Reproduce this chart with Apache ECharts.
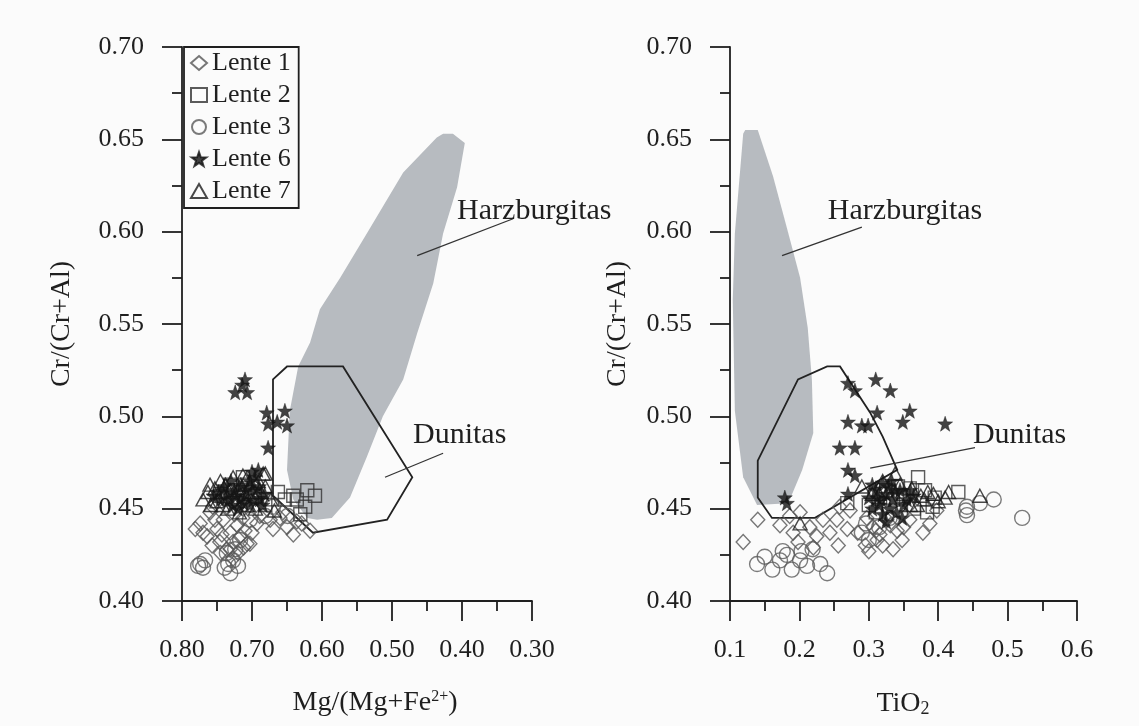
<!DOCTYPE html>
<html>
<head>
<meta charset="utf-8">
<script src="https://cdn.jsdelivr.net/npm/echarts@6/dist/echarts.min.js"></script>
<style>
  html, body { margin: 0; padding: 0; background: #fbfbfb; }
  #chart { width: 1139px; height: 726px; }
</style>
</head>
<body>
<div id="chart"></div>
<script>
// ---- data: left panel, x = Mg/(Mg+Fe2+), y = Cr/(Cr+Al)
const mgLente1 = [
  [0.770, 0.437], [0.774, 0.442], [0.760, 0.448], [0.764, 0.435], [0.750, 0.439],
  [0.741, 0.444], [0.731, 0.437], [0.746, 0.432], [0.727, 0.432], [0.717, 0.435],
  [0.707, 0.431], [0.731, 0.428], [0.720, 0.426], [0.700, 0.437], [0.693, 0.442],
  [0.756, 0.451], [0.736, 0.451], [0.713, 0.445], [0.703, 0.431], [0.727, 0.423],
  [0.736, 0.428], [0.753, 0.444], [0.721, 0.441], [0.710, 0.438], [0.689, 0.446],
  [0.743, 0.436], [0.757, 0.430], [0.781, 0.439], [0.670, 0.439], [0.650, 0.440],
  [0.636, 0.443], [0.617, 0.438], [0.641, 0.436], [0.660, 0.445], [0.656, 0.448],
  [0.629, 0.442], [0.674, 0.444], [0.725, 0.447], [0.712, 0.429], [0.745, 0.426]
];
const mgLente2 = [
  [0.713, 0.467], [0.710, 0.463], [0.663, 0.459], [0.641, 0.457], [0.621, 0.460],
  [0.610, 0.457], [0.624, 0.451], [0.636, 0.455], [0.653, 0.455], [0.631, 0.447],
  [0.731, 0.463], [0.696, 0.457], [0.681, 0.452], [0.746, 0.457]
];
const mgLente3 = [
  [0.774, 0.420], [0.770, 0.418], [0.777, 0.419], [0.767, 0.422], [0.736, 0.426],
  [0.734, 0.420], [0.731, 0.415], [0.727, 0.422], [0.739, 0.418], [0.720, 0.419],
  [0.670, 0.451], [0.681, 0.446], [0.703, 0.444], [0.717, 0.433], [0.724, 0.428],
  [0.649, 0.446]
];
const mgLente6 = [
  [0.724, 0.513], [0.710, 0.520], [0.707, 0.513], [0.714, 0.517], [0.679, 0.502],
  [0.653, 0.503], [0.677, 0.496], [0.664, 0.497], [0.650, 0.495], [0.677, 0.483],
  [0.691, 0.471], [0.696, 0.467], [0.703, 0.465], [0.710, 0.457], [0.696, 0.460],
  [0.689, 0.455], [0.717, 0.455], [0.703, 0.452], [0.725, 0.460], [0.735, 0.458],
  [0.745, 0.455], [0.720, 0.450], [0.690, 0.462], [0.700, 0.470], [0.728, 0.452],
  [0.715, 0.462], [0.682, 0.458], [0.740, 0.462], [0.748, 0.459], [0.730, 0.465],
  [0.722, 0.457], [0.712, 0.453], [0.698, 0.455], [0.706, 0.461], [0.685, 0.452],
  [0.733, 0.455], [0.755, 0.457]
];
const mgLente7 = [
  [0.763, 0.459], [0.753, 0.461], [0.743, 0.459], [0.731, 0.460], [0.720, 0.460],
  [0.710, 0.458], [0.700, 0.459], [0.689, 0.460], [0.681, 0.462], [0.713, 0.468],
  [0.681, 0.469], [0.691, 0.465], [0.770, 0.455], [0.750, 0.454], [0.725, 0.455],
  [0.705, 0.452], [0.695, 0.450], [0.738, 0.463], [0.716, 0.463], [0.759, 0.452],
  [0.735, 0.450], [0.673, 0.455], [0.668, 0.449], [0.684, 0.469], [0.745, 0.465],
  [0.727, 0.467], [0.708, 0.466], [0.760, 0.463], [0.742, 0.452], [0.718, 0.448]
];
const mgHarzburgitas = [
  [0.427, 0.653], [0.413, 0.653], [0.396, 0.648], [0.407, 0.624], [0.427, 0.599],
  [0.441, 0.572], [0.464, 0.545], [0.484, 0.520], [0.513, 0.500], [0.536, 0.478],
  [0.560, 0.456], [0.586, 0.445], [0.607, 0.444], [0.621, 0.445], [0.641, 0.455],
  [0.650, 0.471], [0.646, 0.503], [0.634, 0.527], [0.617, 0.540], [0.603, 0.558],
  [0.574, 0.575], [0.536, 0.599], [0.484, 0.632], [0.436, 0.651]
];
const mgDunitas = [
  [0.670, 0.520], [0.650, 0.527], [0.570, 0.527], [0.471, 0.467], [0.507, 0.444],
  [0.613, 0.437], [0.670, 0.457]
];

// ---- data: right panel, x = TiO2, y = Cr/(Cr+Al)
const tiLente1 = [
  [0.140, 0.444], [0.119, 0.432], [0.201, 0.448], [0.191, 0.437], [0.198, 0.432],
  [0.220, 0.429], [0.256, 0.430], [0.215, 0.440], [0.234, 0.444], [0.254, 0.444],
  [0.269, 0.439], [0.284, 0.437], [0.244, 0.437], [0.225, 0.435], [0.306, 0.440],
  [0.312, 0.433], [0.348, 0.433], [0.326, 0.444], [0.341, 0.438], [0.273, 0.449],
  [0.297, 0.445], [0.258, 0.451], [0.378, 0.437], [0.388, 0.442], [0.398, 0.449],
  [0.359, 0.444], [0.316, 0.436], [0.295, 0.430], [0.331, 0.441], [0.359, 0.452],
  [0.172, 0.441], [0.186, 0.446], [0.320, 0.430], [0.335, 0.428], [0.300, 0.427],
  [0.310, 0.438], [0.350, 0.440]
];
const tiLente2 = [
  [0.371, 0.467], [0.429, 0.459], [0.342, 0.462], [0.359, 0.461], [0.381, 0.460],
  [0.269, 0.453], [0.384, 0.448], [0.325, 0.460], [0.335, 0.455], [0.350, 0.457],
  [0.395, 0.456], [0.300, 0.452], [0.365, 0.450], [0.310, 0.448], [0.392, 0.451]
];
const tiLente3 = [
  [0.4415, 0.451], [0.4415, 0.4465], [0.460, 0.453], [0.480, 0.455], [0.521, 0.445],
  [0.139, 0.420], [0.150, 0.424], [0.161, 0.417], [0.172, 0.422], [0.189, 0.417],
  [0.201, 0.422], [0.211, 0.419], [0.230, 0.420], [0.240, 0.415], [0.182, 0.425],
  [0.176, 0.427], [0.203, 0.427], [0.219, 0.428], [0.290, 0.437], [0.300, 0.433],
  [0.315, 0.440], [0.330, 0.445], [0.296, 0.442], [0.440, 0.449]
];
const tiLente6 = [
  [0.270, 0.518], [0.280, 0.514], [0.310, 0.520], [0.331, 0.514], [0.312, 0.502],
  [0.359, 0.503], [0.349, 0.497], [0.410, 0.496], [0.270, 0.497], [0.290, 0.495],
  [0.299, 0.495], [0.258, 0.483], [0.280, 0.483], [0.270, 0.471], [0.280, 0.468],
  [0.270, 0.458], [0.320, 0.464], [0.179, 0.456], [0.182, 0.453], [0.310, 0.460],
  [0.325, 0.458], [0.335, 0.455], [0.315, 0.452], [0.345, 0.460], [0.300, 0.456],
  [0.330, 0.450], [0.355, 0.455], [0.340, 0.448], [0.320, 0.447], [0.305, 0.463],
  [0.350, 0.452], [0.365, 0.457], [0.312, 0.456], [0.328, 0.462], [0.318, 0.455],
  [0.338, 0.460], [0.348, 0.445], [0.325, 0.443], [0.305, 0.450], [0.360, 0.460],
  [0.333, 0.465]
];
const tiLente7 = [
  [0.338, 0.469], [0.290, 0.462], [0.362, 0.461], [0.393, 0.458], [0.410, 0.456],
  [0.460, 0.457], [0.201, 0.442], [0.320, 0.465], [0.345, 0.463], [0.375, 0.457],
  [0.385, 0.459], [0.400, 0.454], [0.350, 0.458], [0.330, 0.456], [0.370, 0.452],
  [0.315, 0.458], [0.360, 0.452], [0.380, 0.455], [0.305, 0.458], [0.415, 0.459]
];
const tiHarzburgitas = [
  [0.122, 0.655], [0.140, 0.655], [0.162, 0.630], [0.182, 0.602], [0.201, 0.575],
  [0.212, 0.548], [0.218, 0.520], [0.220, 0.491], [0.204, 0.471], [0.184, 0.453],
  [0.139, 0.452], [0.119, 0.467], [0.107, 0.503], [0.104, 0.563], [0.107, 0.599],
  [0.119, 0.653]
];
const tiDunitas = [
  [0.140, 0.456], [0.1605, 0.445], [0.2225, 0.445], [0.341, 0.471], [0.320, 0.489],
  [0.302, 0.502], [0.2585, 0.527], [0.240, 0.527], [0.198, 0.520], [0.140, 0.476]
];

const seriesNames = ['Lente 1', 'Lente 2', 'Lente 3', 'Lente 6', 'Lente 7'];

// field labels: [text, anchor, leader start, leader end]
const mgLabels = [
  ['Harzburgitas', [0.407, 0.611], [0.327, 0.607], [0.464, 0.587]],
  ['Dunitas', [0.470, 0.490], [0.427, 0.480], [0.510, 0.467]]
];
const tiLabels = [
  ['Harzburgitas', [0.241, 0.611], [0.290, 0.6025], [0.175, 0.587]],
  ['Dunitas', [0.450, 0.490], [0.453, 0.483], [0.302, 0.472]]
];

const FONT = '"Liberation Serif", "Times New Roman", serif';
const INK = '#1f1f1f';
const STAR = 'path://M0,-10L2.35,-3.24L9.51,-3.09L3.8,1.24L5.88,8.09L0,4L-5.88,8.09L-3.8,1.24L-9.51,-3.09L-2.35,-3.24Z';

const chart = echarts.init(document.getElementById('chart'));

function axisX(idx, min, max, inverse, fmt) {
  return {
    type: 'value', gridIndex: idx, min: min, max: max, interval: 0.1, inverse: inverse,
    axisLine: { onZero: false, lineStyle: { color: INK, width: 1.8 } },
    axisTick: { length: 20, lineStyle: { color: INK, width: 1.8 } },
    minorTick: { show: true, splitNumber: 2, length: 10, lineStyle: { color: INK, width: 1.8 } },
    splitLine: { show: false },
    axisLabel: { margin: 36, fontSize: 26, fontFamily: FONT, color: INK, formatter: fmt },
  };
}

function axisY(idx) {
  return {
    type: 'value', gridIndex: idx, min: 0.40, max: 0.70, interval: 0.05,
    axisLine: { onZero: false, lineStyle: { color: INK, width: 1.8 } },
    axisTick: { length: 20, lineStyle: { color: INK, width: 1.8 } },
    minorTick: { show: true, splitNumber: 2, length: 10, lineStyle: { color: INK, width: 1.8 } },
    splitLine: { show: false },
    axisLabel: { margin: 38, fontSize: 26, fontFamily: FONT, color: INK, formatter: v => v.toFixed(2) },
  };
}

function scatter(name, idx, data, symbol, size, color, filled, z) {
  return {
    name: name, type: 'scatter', xAxisIndex: idx, yAxisIndex: idx, data: data,
    symbol: symbol, symbolSize: size, z: z,
    itemStyle: filled
      ? { color: color, borderColor: color, borderWidth: 0.5 }
      : { color: 'rgba(0,0,0,0)', borderColor: color, borderWidth: 1.4 },
    emphasis: { disabled: true },
  };
}

function field(idx, pts, style, z) {
  return {
    type: 'custom', xAxisIndex: idx, yAxisIndex: idx, data: pts, z: z, silent: true,
    renderItem: (params, api) => {
      if (params.dataIndex !== 0) return null;
      return { type: 'polygon', shape: { points: pts.map(p => api.coord(p)) }, style: style };
    },
  };
}

function labels(idx, list) {
  return {
    type: 'custom', xAxisIndex: idx, yAxisIndex: idx, data: list.map(l => l[1]), z: 6, silent: true,
    renderItem: (params, api) => {
      const l = list[params.dataIndex];
      const at = api.coord(l[1]);
      const a = api.coord(l[2]);
      const b = api.coord(l[3]);
      return {
        type: 'group',
        children: [
          { type: 'line', shape: { x1: a[0], y1: a[1], x2: b[0], y2: b[1] }, style: { stroke: '#333', lineWidth: 1.3 } },
          { type: 'text', x: at[0], y: at[1], style: { text: l[0], font: '30px ' + FONT, fill: INK, textAlign: 'left', textVerticalAlign: 'middle' } },
        ],
      };
    },
  };
}

function panel(idx, d) {
  return [
    field(idx, d.harz, { fill: '#b7bbc0', stroke: 'none' }, 1),
    field(idx, d.dun, { fill: 'none', stroke: '#222', lineWidth: 1.8 }, 2),
    scatter(seriesNames[0], idx, d.l1, 'diamond', [14, 15], '#555', false, 3),
    scatter(seriesNames[2], idx, d.l3, 'circle', 15, '#5a5a5a', false, 3),
    scatter(seriesNames[1], idx, d.l2, 'rect', 13, '#333', false, 4),
    scatter(seriesNames[4], idx, d.l7, 'triangle', [14, 13], '#1c1c1c', false, 4),
    scatter(seriesNames[3], idx, d.l6, STAR, 15, '#141414', true, 5),
    labels(idx, d.labels),
  ];
}

chart.setOption({
  backgroundColor: '#fbfbfb',
  animation: false,
  grid: [
    { left: 182, top: 47, width: 350, height: 554 },
    { left: 730, top: 47, width: 347, height: 554 },
  ],
  xAxis: [
    axisX(0, 0.30, 0.80, true, v => v.toFixed(2)),
    axisX(1, 0.1, 0.6, false, v => v.toFixed(1)),
  ],
  yAxis: [axisY(0), axisY(1)],
  legend: {
    data: seriesNames,
    orient: 'vertical', left: 184, top: 47,
    padding: [3, 8, 4, 6], itemGap: 6, itemWidth: 16, itemHeight: 14,
    borderColor: INK, borderWidth: 1.8, backgroundColor: '#fbfbfb',
    textStyle: { fontSize: 26, fontFamily: FONT, color: INK },
    selectedMode: false,
  },
  graphic: [
    {
      type: 'text', x: 375, y: 703,
      style: {
        text: 'Mg/(Mg+Fe{sup|2+})', textAlign: 'center', textVerticalAlign: 'middle',
        font: '28px ' + FONT, fill: INK,
        rich: { sup: { fontSize: 16, fontFamily: FONT, verticalAlign: 'top', lineHeight: 18 } },
      },
    },
    {
      type: 'text', x: 903, y: 704,
      style: {
        text: 'TiO{sub|2}', textAlign: 'center', textVerticalAlign: 'middle',
        font: '28px ' + FONT, fill: INK,
        rich: { sub: { fontSize: 18, fontFamily: FONT, verticalAlign: 'bottom', lineHeight: 18 } },
      },
    },
    {
      type: 'text', x: 62, y: 324, rotation: Math.PI / 2,
      style: { text: 'Cr/(Cr+Al)', textAlign: 'center', textVerticalAlign: 'middle', font: '28px ' + FONT, fill: INK },
    },
    {
      type: 'text', x: 618, y: 324, rotation: Math.PI / 2,
      style: { text: 'Cr/(Cr+Al)', textAlign: 'center', textVerticalAlign: 'middle', font: '28px ' + FONT, fill: INK },
    },
  ],
  series: [].concat(
    panel(0, { harz: mgHarzburgitas, dun: mgDunitas, l1: mgLente1, l2: mgLente2, l3: mgLente3, l6: mgLente6, l7: mgLente7, labels: mgLabels }),
    panel(1, { harz: tiHarzburgitas, dun: tiDunitas, l1: tiLente1, l2: tiLente2, l3: tiLente3, l6: tiLente6, l7: tiLente7, labels: tiLabels })
  ),
});
</script>
</body>
</html>
